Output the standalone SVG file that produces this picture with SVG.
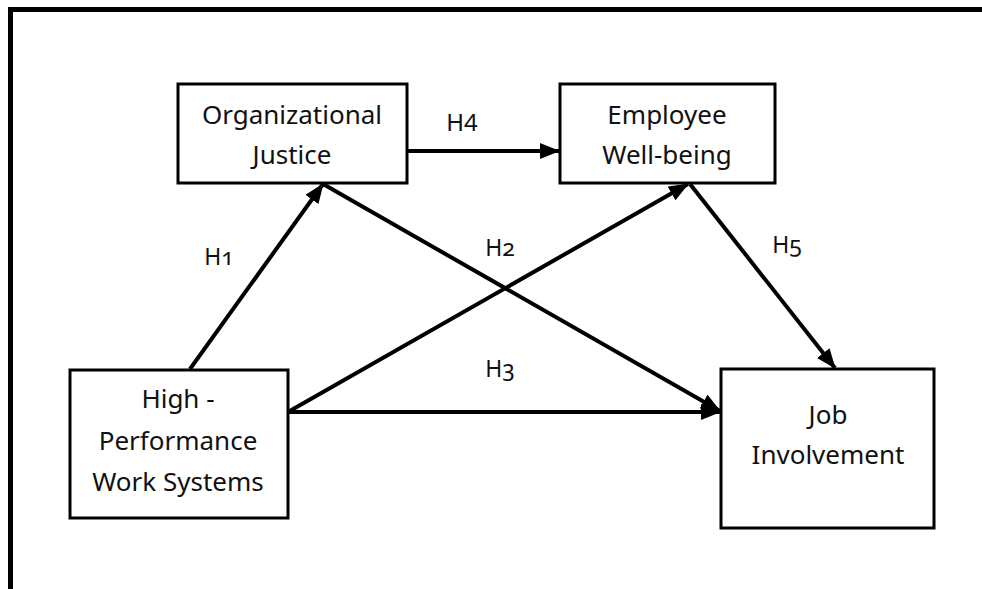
<svg xmlns="http://www.w3.org/2000/svg" width="982" height="589" viewBox="0 0 982 589">
<defs>
<style>
.box{fill:#fff;stroke:#000;stroke-width:3}
.t{font-family:"Noto Sans","Open Sans",sans-serif;font-size:26px;fill:#111;text-anchor:middle}
.h{font-family:"Noto Sans","Open Sans",sans-serif;font-size:23px;fill:#111;text-anchor:middle;font-feature-settings:"onum" 1;font-variant-numeric:oldstyle-nums}
.h4{font-family:"Noto Sans","Open Sans",sans-serif;font-size:24px;fill:#111;text-anchor:middle}
.c{stroke:#000;stroke-width:4;fill:none;marker-end:url(#ah)}
</style>
<marker id="ah" markerUnits="userSpaceOnUse" markerWidth="20" markerHeight="16" refX="19" refY="8" orient="auto">
<path d="M0,0 L20,8 L0,16 z" fill="#000"/>
</marker>
</defs>
<rect width="982" height="589" fill="#fff"/>
<g id="frame">
<path d="M10.5,589 V9.5 H982" fill="none" stroke="#000" stroke-width="5"/>
</g>
<g id="connectors">
<line class="c" x1="190" y1="369" x2="323" y2="184"/>
<line class="c" x1="323" y1="184" x2="720" y2="411"/>
<line class="c" x1="288" y1="412" x2="720" y2="412"/>
<line class="c" x1="288" y1="412" x2="688" y2="184"/>
<line class="c" x1="407" y1="151" x2="559" y2="151"/>
<line class="c" x1="690" y1="184" x2="835" y2="368"/>
</g>
<g id="labels">
<text class="h" x="219" y="265">H1</text>
<text class="h" x="500" y="256">H2</text>
<text class="h" x="500" y="377">H3</text>
<text class="h4" x="462" y="131">H4</text>
<text class="h" x="787" y="253">H5</text>
</g>
<g id="organizational-justice">
<rect class="box" x="178" y="84" width="229" height="99"/>
<text class="t" x="292" y="124">Organizational</text>
<text class="t" x="292" y="164">Justice</text>
</g>
<g id="employee-wellbeing">
<rect class="box" x="560" y="84" width="215" height="99"/>
<text class="t" x="667" y="124">Employee</text>
<text class="t" x="667" y="164">Well-being</text>
</g>
<g id="hpws">
<rect class="box" x="70" y="370" width="218" height="148"/>
<text class="t" x="178" y="408">High -</text>
<text class="t" x="178" y="450">Performance</text>
<text class="t" x="178" y="491">Work Systems</text>
</g>
<g id="job-involvement">
<rect class="box" x="721" y="369" width="213" height="159"/>
<text class="t" x="828" y="424">Job</text>
<text class="t" x="828" y="464">Involvement</text>
</g>
</svg>
